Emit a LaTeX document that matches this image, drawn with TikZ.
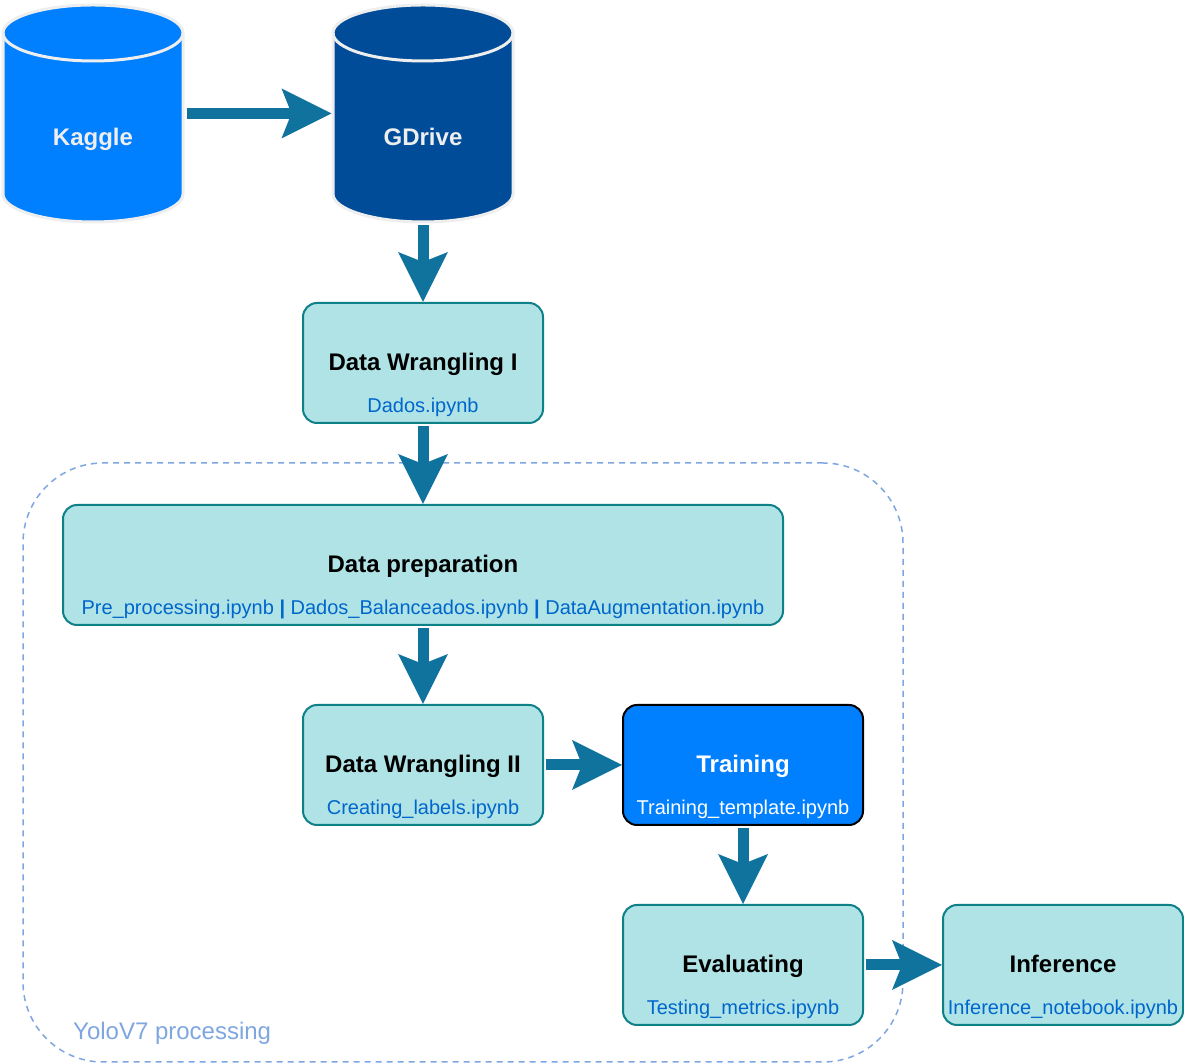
\documentclass[tikz,border=0pt]{standalone}
\usepackage{fontspec}
\setmainfont{Liberation Sans}
\usetikzlibrary{arrows.meta}
\definecolor{arrowc}{HTML}{10739E}
\definecolor{boxfill}{HTML}{B0E3E6}
\definecolor{boxline}{HTML}{0E8088}
\definecolor{kagglec}{HTML}{007FFF}
\definecolor{gdrivec}{HTML}{004C99}
\definecolor{cylline}{HTML}{EEEEEE}
\definecolor{linkblue}{HTML}{0066CC}
\definecolor{contc}{HTML}{7EA6E0}
\begin{document}
\begin{tikzpicture}[x=1pt,y=1pt,
  box/.style={draw=boxline, fill=boxfill, line width=2pt, rounded corners=14pt,
    minimum width=240pt, minimum height=120pt, inner sep=0pt},
  trainbox/.style={box, draw=black, fill=kagglec},
  titletext/.style={font=\fontsize{24}{28}\selectfont\bfseries, inner sep=0pt, anchor=base},
  subtext/.style={font=\fontsize{20}{24}\selectfont, text=linkblue, inner sep=0pt, anchor=base},
  cylnode/.style={minimum width=183pt, minimum height=220pt, inner sep=0pt, outer sep=0pt},
  cyltext/.style={font=\fontsize{24}{28}\selectfont\bfseries, text=cylline, inner sep=0pt, anchor=base},
  cylshape/.style={draw=cylline, line width=3pt},
  container/.style={draw=contc, line width=1.5pt, dash pattern=on 6pt off 5pt, rounded corners=80pt,
    minimum width=880pt, minimum height=599pt, inner sep=0pt},
  flow/.style={draw=arrowc, line width=11pt,
    -{Stealth[length=50pt, width=50pt, inset=10pt, line width=0pt, color=arrowc]}, shorten <=2pt}
]
\useasboundingbox (0,0) rectangle (1184,1064);

% container
\node[container] (yolo) at (463,301.5) {};
\node[font=\fontsize{24}{28}\selectfont, text=contc, inner sep=0pt, anchor=base west] (yololabel) at (73,24) {YoloV7 processing};

% cylinders
\filldraw[cylshape, fill=kagglec] (3,1031) -- (3,870) arc[start angle=180, end angle=360, x radius=90, y radius=28]
  -- (183,1031) arc[start angle=0, end angle=180, x radius=90, y radius=28] -- cycle;
\draw[cylshape] (3,1031) arc[start angle=180, end angle=360, x radius=90, y radius=28];
\filldraw[cylshape, fill=gdrivec] (333,1031) -- (333,870) arc[start angle=180, end angle=360, x radius=90, y radius=28]
  -- (513,1031) arc[start angle=0, end angle=180, x radius=90, y radius=28] -- cycle;
\draw[cylshape] (333,1031) arc[start angle=180, end angle=360, x radius=90, y radius=28];
\node[cylnode] (kaggle) at (93,950.5) {};
\node[cylnode] (gdrive) at (423,950.5) {};
\node[cyltext] (kaggletxt) at (93,918) {Kaggle};
\node[cyltext] (gdrivetxt) at (423,918) {GDrive};

% boxes
\node[box] (dw1) at (423,701) {};
\node[titletext] (dw1t) at ([yshift=-7.5pt]dw1.center) {Data Wrangling I};
\node[subtext] (dw1s) at ([yshift=-50pt]dw1.center) {Dados.ipynb};

\node[box, minimum width=720pt] (prep) at (423,499) {};
\node[titletext] (prept) at ([yshift=-7.5pt]prep.center) {Data preparation};
\node[subtext] (preps) at ([yshift=-50pt]prep.center) {Pre\_processing.ipynb \textbf{|} Dados\_Balanceados.ipynb \textbf{|} DataAugmentation.ipynb};

\node[box] (dw2) at (423,299) {};
\node[titletext] (dw2t) at ([yshift=-7.5pt]dw2.center) {Data Wrangling II};
\node[subtext] (dw2s) at ([yshift=-50pt]dw2.center) {Creating\_labels.ipynb};

\node[trainbox] (train) at (743,299) {};
\node[titletext, text=white] (traint) at ([yshift=-7.5pt]train.center) {Training};
\node[subtext, text=white] (trains) at ([yshift=-50pt]train.center) {Training\_template.ipynb};

\node[box] (eval) at (743,99) {};
\node[titletext] (evalt) at ([yshift=-7.5pt]eval.center) {Evaluating};
\node[subtext] (evals) at ([yshift=-50pt]eval.center) {Testing\_metrics.ipynb};

\node[box] (inf) at (1063,99) {};
\node[titletext] (inft) at ([yshift=-7.5pt]inf.center) {Inference};
\node[subtext] (infs) at ([yshift=-50pt]inf.center) {Inference\_notebook.ipynb};

% connectors
\draw[flow] (kaggle.east) -- (gdrive.west);
\draw[flow] (gdrive.south) -- (dw1.north);
\draw[flow] (dw1.south) -- (prep.north);
\draw[flow] (prep.south) -- (dw2.north);
\draw[flow] (dw2.east) -- (train.west);
\draw[flow] (train.south) -- (eval.north);
\draw[flow] (eval.east) -- (inf.west);
\end{tikzpicture}
\end{document}
